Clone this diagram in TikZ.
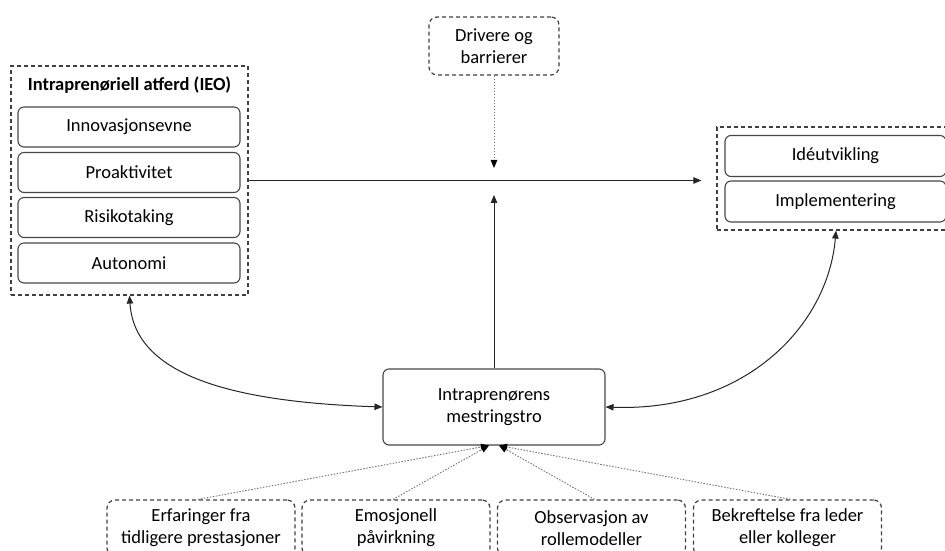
\documentclass[tikz,border=0pt]{standalone}
\usepackage{fontspec}
\setmainfont{Carlito}
\usetikzlibrary{arrows.meta}

\begin{document}
\begin{tikzpicture}[font=\fontsize{18.5}{22}\selectfont,x=1pt,y=1pt,
    >={Triangle[length=8pt,width=6.5pt]}]
    \tikzset{
        box/.style={draw=black!72,line width=1.1pt,rounded corners=6pt,align=center,inner sep=0pt},
        group/.style={draw=black!75,line width=1.2pt,dash pattern=on 4pt off 3pt,inner sep=0pt},
        cause/.style={group,rounded corners=8pt,align=center},
        link/.style={->,line width=1pt,black!85},
        hint/.style={-{Triangle[length=8pt,width=6.5pt,black]},black!55,line width=0.9pt,
            dash pattern=on 1.5pt off 1.5pt}
    }
    \useasboundingbox (0,0) rectangle (945,551);

    % venstre gruppe
    \node[group,minimum width=237,minimum height=229] (ieo) at (129.5,370.5) {};
    \node[font=\fontsize{18.5}{22}\selectfont\bfseries] (ieotitle) at (129.5,466) {Intraprenøriell atferd (IEO)};
    \foreach \y/\name/\txt in {
        424/inn/Innovasjonsevne,
        378.5/pro/Proaktivitet,
        333.5/ris/Risikotaking,
        288/aut/Autonomi}{
        \node[box,minimum width=222,minimum height=40] (\name) at (129,\y) {\txt};
    }

    % høyre gruppe
    \node[group,minimum width=239,minimum height=103] (res) at (836.5,372.5) {};
    \node[box,minimum width=221,minimum height=41] (ide) at (835.5,395) {Idéutvikling};
    \node[box,minimum width=221,minimum height=41] (imp) at (835.5,349.5) {Implementering};

    % midten
    \node[box,minimum width=222,minimum height=76] (mest) at (494,144) {Intraprenørens\\mestringstro};
    \node[cause,minimum width=130,minimum height=58] (drv) at (494,505) {Drivere og\\barrierer};
    \coordinate (drvend) at (494,383);
    \coordinate (modend) at (494,356);

    % kilder nederst
    \foreach \x/\name/\txt in {
        201/erf/{Erfaringer fra\\tidligere prestasjoner},
        396/emo/{Emosjonell\\påvirkning},
        591.5/obs/{Observasjon av\\rollemodeller},
        787.5/bek/{Bekreftelse fra leder\\eller kolleger}}{
        \node[cause,minimum width=188,minimum height=56] (\name) at (\x,23) {\txt};
    }

    \draw[link,shorten >=15pt] (ieo.east) -- (ieo.east -| res.west);
    \draw[link] (mest.north) -- (modend);
    \draw[hint] (drv.south) -- (drvend);
    \draw[link,<->] (ieo.south) .. controls +(5,-80) and +(-150,5) .. (mest.west);
    \draw[link,<->] ([xshift=-0.5pt]res.south) .. controls +(-8,-95) and +(140,-5) .. (mest.east);
    \foreach \src/\dx in {erf/-5,emo/-5,obs/5,bek/5}{
        \draw[hint] ([xshift=\dx*0.6 pt]\src.north) -- ([xshift=\dx pt]mest.south);
    }
\end{tikzpicture}
\end{document}
